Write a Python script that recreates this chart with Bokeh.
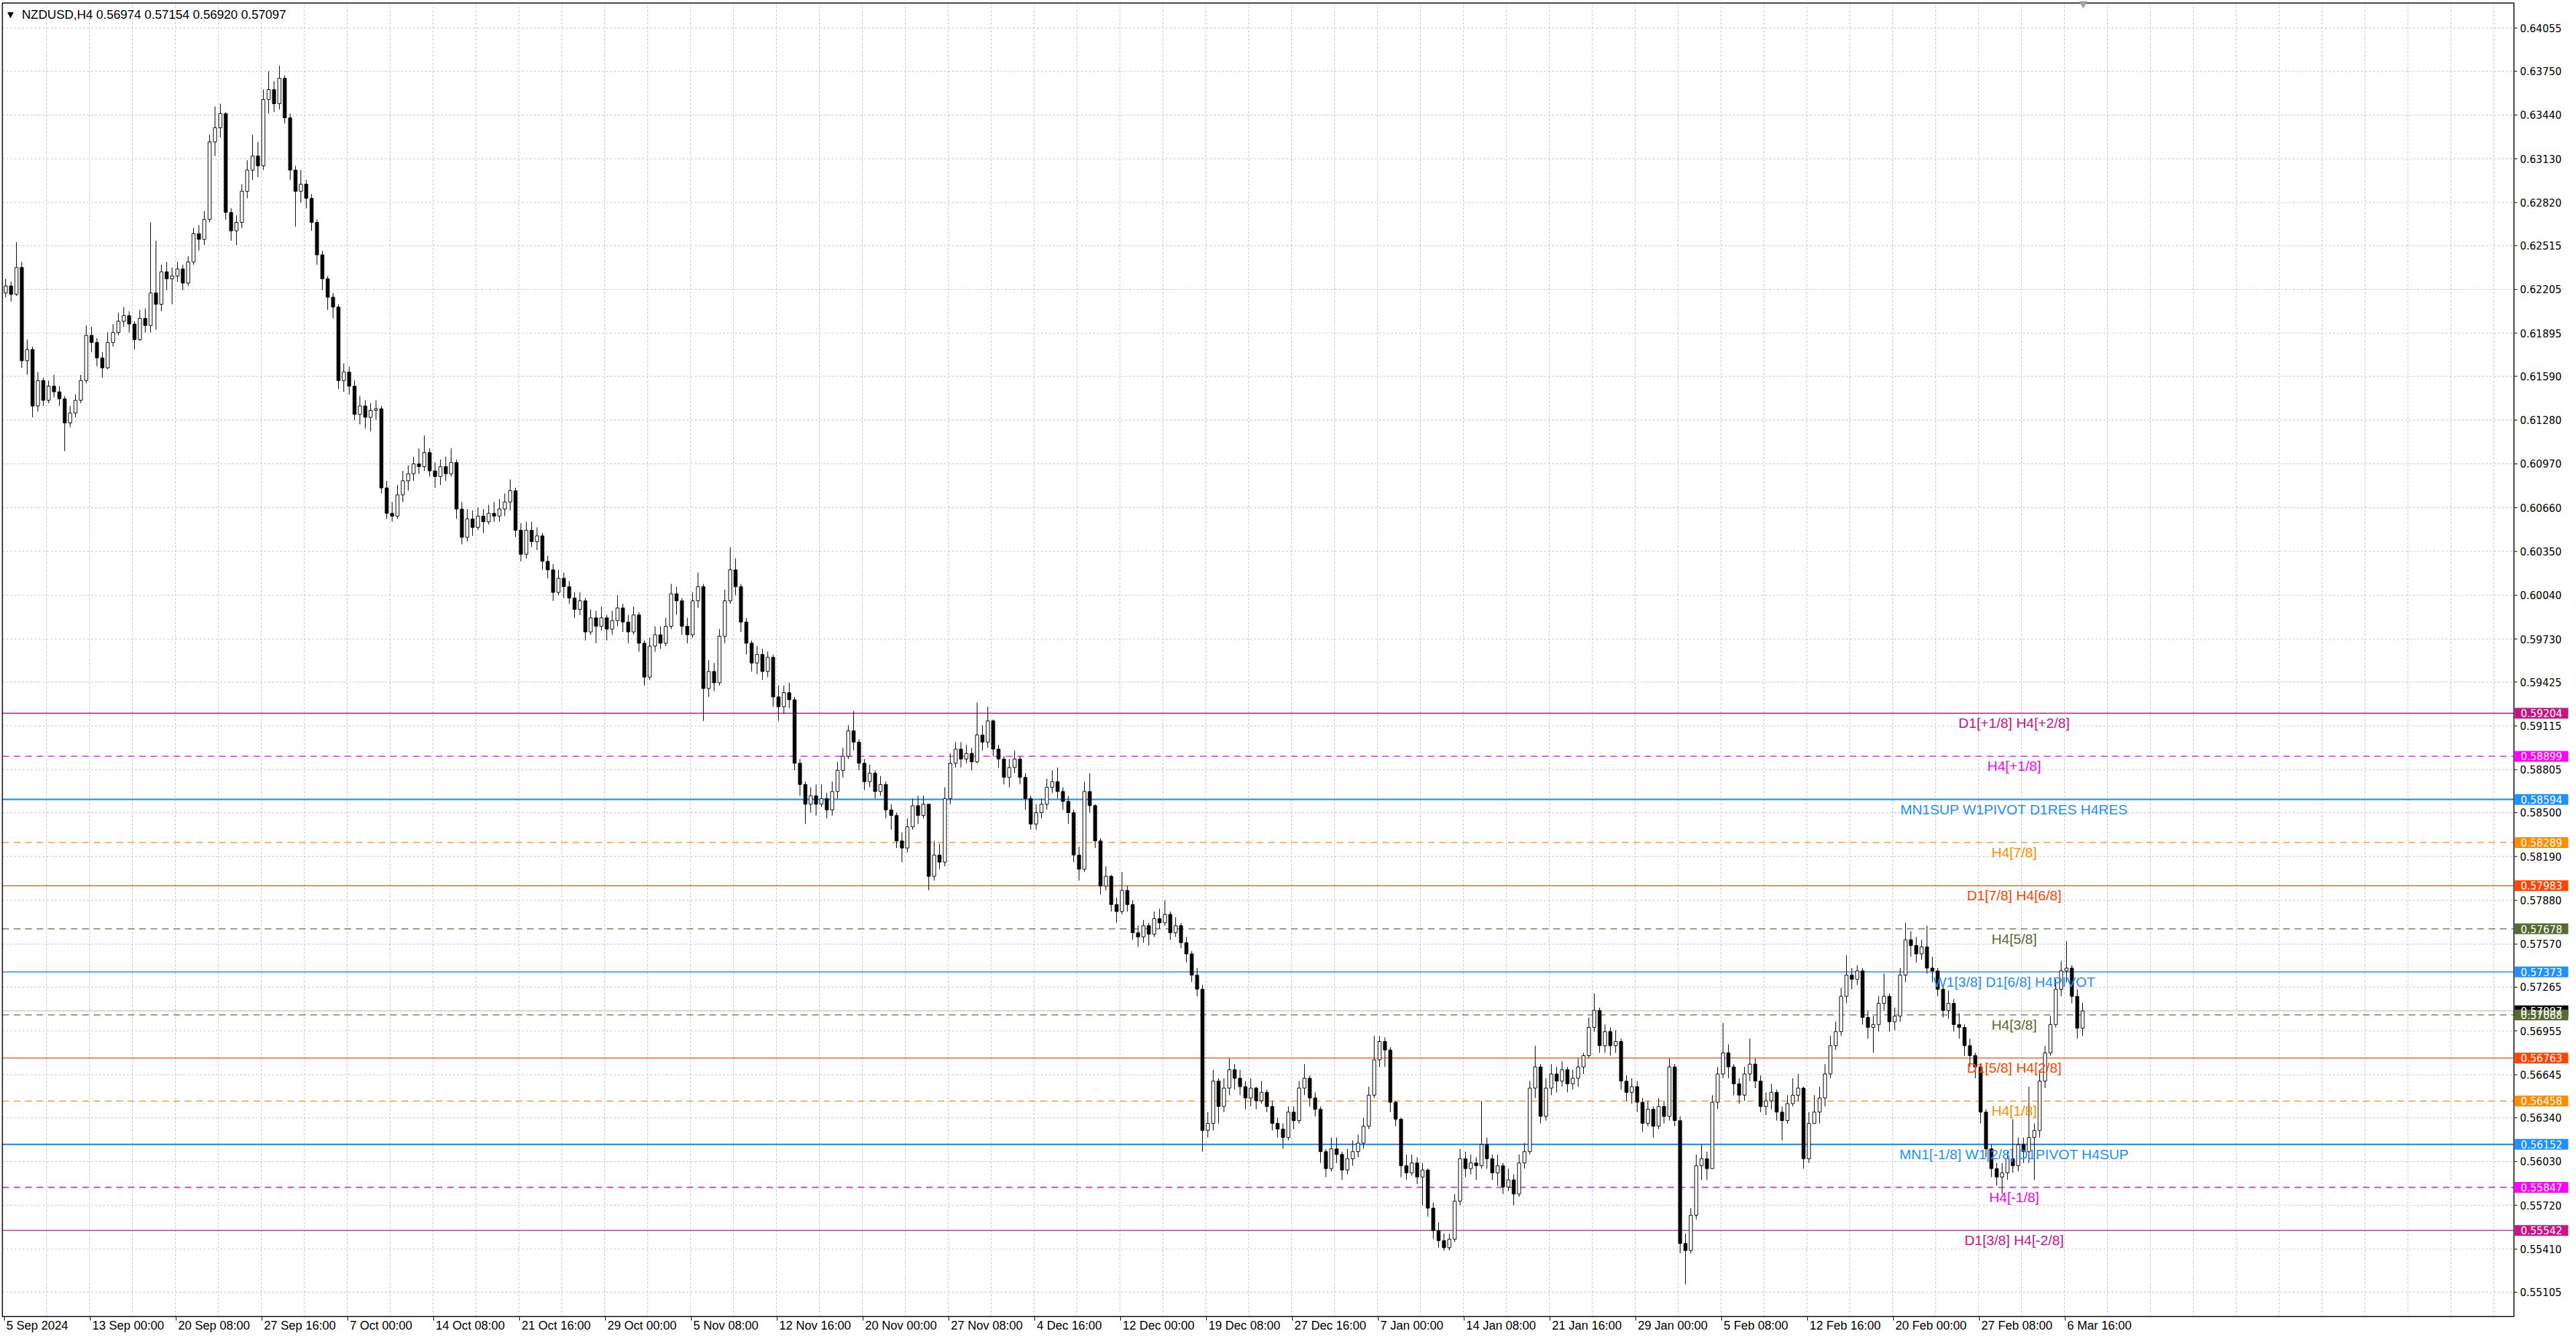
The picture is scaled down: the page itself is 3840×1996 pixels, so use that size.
import numpy as np
from bokeh.plotting import figure
from bokeh.models import Range1d
from bokeh.core.properties import value
from bokeh.embed import file_html
from bokeh.resources import INLINE

# ---- data (prices in 1e-5 units, one candle = 2 H4 bars) ----
symbol = "NZDUSD,H4"
last_bar = ["0.56974", "0.57154", "0.56920", "0.57097"]
first_open = 62180

closes = [
    62230, 62170, 62360, 61700, 61780, 61380, 61560, 61420, 61520, 61480,
    61430, 61260, 61330, 61420, 61560, 61880, 61830, 61720, 61650, 61830,
    61900, 61980, 62020, 61960, 61850, 62000, 61950, 62180, 62100, 62330,
    62280, 62300, 62350, 62250, 62400, 62600, 62560, 62700, 63250, 63350,
    63450, 62750, 62620, 62680, 62900, 63050, 63150, 63080, 63550, 63620,
    63520, 63700, 63420, 63050, 62900, 62950, 62850, 62680, 62450, 62280,
    62150, 62080, 61560, 61620, 61520, 61320, 61380, 61300, 61350, 61360,
    60800, 60620, 60600, 60750, 60850, 60900, 60970, 60950, 61050, 60920,
    60880, 60950, 60900, 60980, 60650, 60450, 60580, 60520, 60600, 60560,
    60620, 60600, 60650, 60700, 60780, 60500, 60330, 60500, 60420, 60460,
    60280, 60220, 60060, 60160, 60100, 60020, 59940, 60000, 59780, 59880,
    59820, 59880, 59800, 59860, 59950, 59850, 59780, 59900, 59700, 59460,
    59680, 59760, 59700, 59820, 60050, 60000, 59820, 59760, 60000, 60100,
    59380, 59500, 59420, 59750, 60000, 60220, 60100, 59850, 59700, 59560,
    59620, 59500, 59600, 59320, 59250, 59350, 59300, 58850, 58700, 58560,
    58620, 58560, 58600, 58520, 58650, 58800, 58900, 59080, 59000, 58850,
    58720, 58780, 58650, 58700, 58520, 58480, 58300, 58250, 58400, 58550,
    58480, 58560, 58050, 58200, 58150, 58600, 58850, 58950, 58880, 58920,
    58860, 59050, 59000, 59150, 58950, 58880, 58750, 58820, 58880, 58750,
    58600, 58420, 58500, 58560, 58680, 58720, 58650, 58580, 58500, 58200,
    58100, 58650, 58550, 58300, 57980, 58050, 57850, 57800, 57950, 57850,
    57650, 57620, 57700, 57640, 57750, 57720, 57780, 57650, 57700, 57580,
    57500, 57350, 57250, 56250, 56300, 56600, 56420, 56550, 56680, 56620,
    56560, 56480, 56550, 56460, 56520, 56420, 56300, 56260, 56200, 56380,
    56320, 56550, 56620, 56480, 56400, 56100, 55980, 56120, 56080, 55970,
    56050, 56100, 56160, 56280, 56500, 56750, 56880, 56820, 56450, 56330,
    56000, 55950, 56020, 55920, 55970, 55700, 55540, 55470, 55420, 55480,
    55750, 56050, 55980, 56020, 56000, 56150, 56050, 55950, 56000, 55850,
    55900, 55800, 56020, 56100, 56550, 56700, 56350, 56550, 56650, 56600,
    56680, 56580, 56620, 56700, 56780, 56980, 57100, 56850, 56950, 56850,
    56880, 56600, 56520, 56560, 56450, 56300, 56400, 56280, 56420, 56350,
    56700, 56320, 55450, 55400, 55650, 56000, 56050, 55980, 56450, 56650,
    56800, 56700, 56580, 56500, 56650, 56720, 56600, 56420, 56460, 56520,
    56380, 56320, 56440, 56500, 56550, 56050, 56300, 56380, 56480, 56650,
    56850, 56950, 57200, 57350, 57320, 57380, 57050, 56980, 57000, 57150,
    57200, 57020, 57060, 57350, 57600, 57560, 57500, 57550, 57400, 57380,
    57250, 57100, 57150, 57000, 56980, 56850, 56780, 56700, 56380, 56120,
    55980, 55920, 55950, 56050, 56000, 56150, 56100, 56200, 56250, 56600,
    56800, 57000, 57250, 57380, 57400, 57200, 56974, 57097,
]

highs = [
    62280, 62260, 62540, 62400, 61850, 61800, 61620, 61580, 61560, 61600,
    61520, 61450, 61380, 61460, 61600, 61950, 61940, 61860, 61760, 61900,
    61960, 62040, 62080, 62050, 61980, 62060, 62070, 62680, 62550, 62380,
    62400, 62360, 62400, 62380, 62440, 62640, 62660, 62760, 63300, 63500,
    63520, 63460, 62780, 62730, 62950, 63120, 63300, 63250, 63620, 63750,
    63680, 63790, 63720, 63450, 63080, 63050, 62980, 62880, 62700, 62480,
    62300, 62180, 62100, 61680, 61660, 61560, 61450, 61420, 61400, 61420,
    61380, 60850, 60700, 60820, 60920, 60960, 61020, 61080, 61170, 61080,
    60980, 61000, 61020, 61080, 61000, 60700, 60650, 60640, 60660, 60650,
    60680, 60700, 60720, 60760, 60860, 60800, 60550, 60560, 60560, 60520,
    60480, 60320, 60260, 60220, 60200, 60140, 60060, 60060, 60020, 59940,
    59930, 59960, 59900, 59930, 60040, 59980, 59900, 59960, 59920, 59720,
    59740, 59820, 59820, 59880, 60120, 60100, 60020, 59880, 60060, 60200,
    60120, 59580, 59560, 59800, 60080, 60380, 60300, 60120, 59880, 59720,
    59680, 59660, 59640, 59620, 59400, 59400, 59420, 59320, 58880, 58720,
    58680, 58700, 58700, 58640, 58720, 58860, 58960, 59120, 59220, 59020,
    58880, 58840, 58800, 58760, 58720, 58560, 58500, 58360, 58460, 58600,
    58620, 58620, 58560, 58300, 58280, 58680, 58920, 59000, 59000, 58980,
    58960, 59280, 59120, 59250, 59160, 58980, 58900, 58880, 58940, 58900,
    58780, 58620, 58560, 58600, 58740, 58800, 58820, 58680, 58620, 58520,
    58260, 58720, 58780, 58560, 58320, 58120, 58060, 57900, 58080, 57980,
    57880, 57700, 57740, 57720, 57800, 57820, 57880, 57800, 57760, 57720,
    57620, 57520, 57400, 57280, 56380, 56680, 56620, 56620, 56760, 56720,
    56680, 56600, 56620, 56560, 56600, 56540, 56460, 56340, 56300, 56420,
    56420, 56600, 56720, 56640, 56520, 56420, 56120, 56200, 56200, 56100,
    56120, 56180, 56220, 56340, 56560, 56920, 56920, 56910, 56840, 56460,
    56340, 56080, 56080, 56060, 56020, 55980, 55740, 55600, 55520, 55520,
    55800, 56120, 56100, 56080, 56060, 56460, 56200, 56080, 56080, 56020,
    55980, 55940, 56080, 56160, 56600, 56850, 56720, 56620, 56720, 56700,
    56740, 56700, 56680, 56760, 56800, 57050, 57220, 57120, 57000, 56980,
    56960, 56900, 56640, 56620, 56600, 56480, 56460, 56420, 56480, 56460,
    56760, 56720, 56350, 55520, 55700, 56080, 56150, 56100, 56500, 56700,
    57010, 56860, 56720, 56620, 56700, 56900, 56760, 56640, 56520, 56580,
    56540, 56420, 56500, 56620, 56650, 56560, 56380, 56500, 56560, 56720,
    56920, 57020, 57260, 57490, 57400, 57420, 57400, 57100, 57060, 57200,
    57360, 57220, 57120, 57400, 57720, 57660, 57620, 57600, 57700, 57480,
    57400, 57280, 57240, 57180, 57080, 57000, 56900, 56800, 56720, 56400,
    56150, 56020, 56020, 56100, 56330, 56200, 56200, 56560, 56300, 56680,
    56850, 57060, 57320, 57450, 57590, 57420, 57250, 57154,
]

lows = [
    62150, 62120, 62160, 61650, 61600, 61300, 61340, 61380, 61400, 61440,
    61380, 61060, 61230, 61300, 61400, 61540, 61760, 61660, 61580, 61640,
    61800, 61880, 61940, 61900, 61780, 61840, 61900, 61900, 61920, 62050,
    62200, 62100, 62260, 62200, 62230, 62380, 62480, 62520, 62680, 63150,
    63280, 62700, 62550, 62520, 62640, 62850, 62980, 63000, 63050, 63450,
    63460, 63480, 63380, 62980, 62650, 62820, 62780, 62620, 62380, 62200,
    62060, 62000, 61500, 61480, 61460, 61280, 61250, 61220, 61200, 61280,
    60760, 60580, 60560, 60580, 60700, 60780, 60850, 60900, 60920, 60880,
    60800, 60820, 60850, 60880, 60580, 60400, 60420, 60460, 60500, 60480,
    60540, 60560, 60560, 60600, 60640, 60450, 60280, 60300, 60380, 60360,
    60220, 60160, 60000, 60040, 60020, 59980, 59880, 59900, 59720, 59760,
    59700, 59790, 59720, 59760, 59820, 59780, 59700, 59760, 59640, 59400,
    59440, 59640, 59660, 59680, 59800, 59900, 59760, 59700, 59740, 59950,
    59150, 59320, 59360, 59400, 59700, 59980, 60040, 59780, 59620, 59500,
    59480, 59440, 59460, 59250, 59150, 59200, 59240, 58800, 58620, 58420,
    58500, 58480, 58540, 58460, 58480, 58600, 58750, 58880, 58940, 58800,
    58660, 58680, 58600, 58620, 58460, 58380, 58250, 58150, 58220, 58380,
    58420, 58460, 57950, 58020, 58100, 58120, 58560, 58820, 58820, 58850,
    58800, 58850, 58940, 58960, 58900, 58820, 58700, 58680, 58780, 58700,
    58520, 58380, 58380, 58460, 58520, 58640, 58600, 58520, 58420, 58150,
    58020, 58080, 58500, 58250, 57920, 57950, 57800, 57720, 57780, 57800,
    57600, 57550, 57580, 57560, 57620, 57680, 57700, 57600, 57620, 57540,
    57440, 57300, 57200, 56100, 56200, 56250, 56300, 56380, 56500, 56540,
    56500, 56400, 56420, 56400, 56440, 56380, 56250, 56200, 56120, 56180,
    56260, 56300, 56500, 56420, 56350, 56020, 55920, 55960, 56020, 55900,
    55940, 56000, 56060, 56120, 56260, 56480, 56700, 56700, 56380, 56280,
    55920, 55900, 55930, 55870, 55720, 55640, 55480, 55420, 55400, 55400,
    55460, 55720, 55920, 55940, 55900, 55980, 55980, 55900, 55860, 55800,
    55820, 55720, 55780, 55980, 56080, 56480, 56300, 56320, 56500, 56520,
    56560, 56520, 56540, 56560, 56650, 56760, 56950, 56800, 56800, 56780,
    56800, 56540, 56460, 56440, 56380, 56240, 56280, 56200, 56260, 56300,
    56320, 56280, 55380, 55160, 55380, 55620, 55900, 55900, 55980, 56400,
    56620, 56620, 56500, 56440, 56460, 56600, 56550, 56380, 56360, 56400,
    56320, 56180, 56300, 56420, 56460, 55980, 56020, 56300, 56300, 56420,
    56620, 56820, 56920, 57150, 57250, 57280, 57000, 56900, 56800, 56950,
    57100, 56950, 56960, 57020, 57300, 57480, 57440, 57460, 57360, 57300,
    57200, 57050, 57040, 56950, 56900, 56780, 56700, 56620, 56300, 56060,
    55920, 55860, 55800, 55900, 55950, 55960, 56020, 56020, 55900, 56200,
    56550, 56780, 56980, 57200, 57300, 57150, 56900, 56920,
]

price_ticks = [
    0.64055, 0.63750, 0.63440, 0.63130, 0.62820, 0.62515, 0.62205, 0.61895,
    0.61590, 0.61280, 0.60970, 0.60660, 0.60350, 0.60040, 0.59730, 0.59425,
    0.59115, 0.58805, 0.58500, 0.58190, 0.57880, 0.57570, 0.57265, 0.56955,
    0.56645, 0.56340, 0.56030, 0.55720, 0.55410, 0.55105,
]

time_labels = [
    "5 Sep 2024", "13 Sep 00:00", "20 Sep 08:00", "27 Sep 16:00", "7 Oct 00:00",
    "14 Oct 08:00", "21 Oct 16:00", "29 Oct 00:00", "5 Nov 08:00", "12 Nov 16:00",
    "20 Nov 00:00", "27 Nov 08:00", "4 Dec 16:00", "12 Dec 00:00", "19 Dec 08:00",
    "27 Dec 16:00", "7 Jan 00:00", "14 Jan 08:00", "21 Jan 16:00", "29 Jan 00:00",
    "5 Feb 08:00", "12 Feb 16:00", "20 Feb 00:00", "27 Feb 08:00", "6 Mar 16:00",
]

levels = [0.59204, 0.58899, 0.58594, 0.58289, 0.57983, 0.57678, 0.57373,
          0.57068, 0.56763, 0.56458, 0.56152, 0.55847, 0.55542]
level_names = [
    "D1[+1/8] H4[+2/8]", "H4[+1/8]", "MN1SUP W1PIVOT D1RES H4RES", "H4[7/8]",
    "D1[7/8] H4[6/8]", "H4[5/8]", "W1[3/8] D1[6/8] H4PIVOT", "H4[3/8]",
    "D1[5/8] H4[2/8]", "H4[1/8]", "MN1[-1/8] W1[2/8] D1PIVOT H4SUP", "H4[-1/8]",
    "D1[3/8] H4[-2/8]",
]
level_colors = ["#C71585", "#FF00FF", "#1E90FF", "#FF8C00", "#FF4500", "#556B2F",
                "#1E90FF", "#556B2F", "#FF4500", "#FF8C00", "#1E90FF", "#FF00FF",
                "#C71585"]
level_dashed = [False, True, False, True, False, True, False, True, False, True,
                False, True, False]
level_widths = [1.3, 1.3, 2.2, 1.3, 1.3, 1.3, 1.3, 1.3, 1.3, 1.3, 2.2, 1.3, 1.3]
current_price = 0.57097


# ---- canvas geometry: x in candles (8 px each), y in price (4.75e-5 per px) ----
W, H = 3832, 1990


def X(px):
    return (px - 8) / 8.0


def Y(py):
    return 0.64055 - (py - 41.5) * 4.75e-5


PX_Y = 4.75e-5
f_left, f_right, f_top, f_bottom = X(3), X(3747), Y(4), Y(1962)

p = figure(width=W, height=H, x_range=Range1d(X(0), X(W)),
           y_range=Range1d(Y(H), Y(0)), x_axis_location=None, y_axis_location=None,
           output_backend="svg", toolbar_location=None, tools="",
           min_border=0, background_fill_color="white", border_fill_color="white")
p.outline_line_color = None
p.xgrid.visible = False
p.ygrid.visible = False

# ---- dotted grid inside the frame ----
grid_x = [8 * k - 0.375 for k in range(1, 59)]
p.segment(x0=grid_x, y0=f_bottom, x1=grid_x, y1=f_top, line_color="#C0C0C0",
          line_dash="3 3", line_width=1)
p.segment(x0=f_left, y0=price_ticks, x1=f_right, y1=price_ticks, line_color="#C0C0C0",
          line_dash="3 3", line_width=1)

# ---- level lines ----
for lv, col, dashed, lw in zip(levels, level_colors, level_dashed, level_widths):
    p.segment(x0=f_left, y0=lv, x1=f_right, y1=lv, line_color=col, line_width=lw,
              line_dash="10 7" if dashed else "solid")
p.segment(x0=f_left, y0=current_price, x1=f_right, y1=current_price,
          line_color="#C0C0C0", line_width=1.3)

# ---- candles ----
idx = np.arange(len(closes))
c = np.array(closes) / 1e5
o = np.concatenate([[first_open / 1e5], c[:-1]])
hi = np.maximum(np.array(highs) / 1e5, np.maximum(o, c))
lo = np.minimum(np.array(lows) / 1e5, np.minimum(o, c))
up = c >= o
p.segment(idx, hi, idx, lo, line_color="black", line_width=1)
p.vbar(x=idx[up], width=0.6, top=c[up], bottom=o[up], fill_color="white",
       line_color="black", line_width=1)
p.vbar(x=idx[~up], width=0.6, top=o[~up], bottom=c[~up], fill_color="black",
       line_color="black", line_width=1)

# ---- level captions ----
p.text(x=X(3002), y=np.array(levels) - 3 * PX_Y, text=level_names, text_color=level_colors,
       text_align="center", text_baseline="top", text_font=value("Liberation Sans"),
       text_font_size=value("21px"))

# ---- frame and chart-shift marker ----
p.quad(left=f_left, right=f_right, top=f_top, bottom=f_bottom, fill_color=None,
       line_color="black", line_width=1.5)
p.scatter(x=[X(3105)], y=[Y(5)], marker="inverted_triangle", size=11,
          fill_color="#A0A0A0", line_color="#A0A0A0")

# ---- price scale on the right ----
p.segment(x0=f_right, y0=price_ticks, x1=X(3752), y1=price_ticks, line_color="black")
p.text(x=X(3756), y=price_ticks, text=[f"{t:.5f}" for t in price_ticks],
       text_align="left", text_baseline="middle", text_color="black",
       text_font=value("DejaVu Sans"), text_font_size=value("15px"))

box_w, box_h = 80 / 8.0, 16 * PX_Y
box_levels = [current_price] + levels
box_colors = ["black"] + level_colors
p.rect(x=X(3788), y=box_levels, width=box_w, height=box_h, fill_color=box_colors,
       line_color=None)
p.text(x=X(3788), y=box_levels, text=[f"{v:.5f}" for v in box_levels],
       text_align="center", text_baseline="middle", text_color="white",
       text_font=value("DejaVu Sans"), text_font_size=value("15px"))

# ---- time scale at the bottom ----
tick_x = [16 * k - 0.25 for k in range(len(time_labels))]
p.segment(x0=tick_x, y0=f_bottom, x1=tick_x, y1=Y(1968), line_color="black")
p.text(x=np.array(tick_x) + 3 / 8.0, y=Y(1965), text=time_labels, text_align="left",
       text_baseline="top", text_color="black", text_font=value("Liberation Sans"),
       text_font_size=value("18px"))

# ---- header ----
p.text(x=X(15), y=Y(21), text=["\u25bc"], text_align="center", text_baseline="middle",
       text_color="black", text_font=value("DejaVu Sans"), text_font_size=value("12px"))
p.text(x=X(32), y=Y(21), text=[symbol + "  " + " ".join(last_bar)], text_align="left",
       text_baseline="middle", text_color="black", text_font=value("Liberation Sans"),
       text_font_size=value("18.5px"))

open("out.html", "w").write(file_html(p, INLINE))
